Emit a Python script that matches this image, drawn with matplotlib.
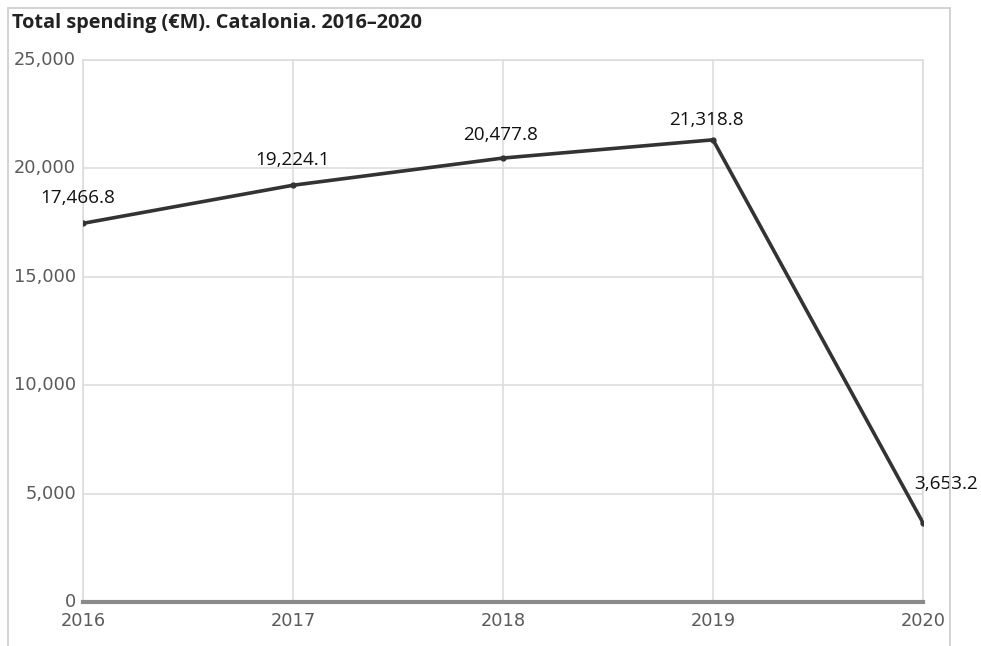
import matplotlib.pyplot as plt
from matplotlib.patches import Rectangle
from matplotlib.ticker import FuncFormatter

# Total spending in Catalonia, millions of euros
years = [2016, 2017, 2018, 2019, 2020]
spending = [17466.8, 19224.1, 20477.8, 21318.8, 3653.2]
y_ticks = [0, 5000, 10000, 15000, 20000, 25000]

# label offsets in points (dx, dy) from each marker to the label centre
label_offsets = [(-3.6, 18), (0, 18), (-2, 16.5), (-5, 14.4), (16.5, 28)]

plt.rcParams['font.family'] = ['Open Sans', 'DejaVu Sans']

fig = plt.figure(figsize=(9.81, 6.46), dpi=100)
ax = fig.add_axes([0.0846, 0.0681, 0.8563, 0.8390])

# outer frame around the chart
fig.patches.append(Rectangle((8 / 981, -0.05), 942 / 981, 1.05 - 8 / 646,
                             transform=fig.transFigure, fill=False,
                             edgecolor='#cfcfcf', linewidth=1.3))

fig.text(12 / 981, 1 - 23 / 646, 'Total spending (€M). Catalonia. 2016–2020',
         fontsize=14.3, fontweight='bold', color='#222222', va='center', ha='left')

ax.plot(years, spending, color='#333333', linewidth=2.6, marker='o',
        markersize=3.5, zorder=3)

for x, v, (dx, dy) in zip(years, spending, label_offsets):
    ax.annotate(f'{v:,.1f}', (x, v), xytext=(dx, dy), textcoords='offset points',
                ha='center', va='center', fontsize=13.6, color='#111111')

ax.set_xlim(years[0], years[-1])
ax.set_ylim(0, 25000)
ax.set_xticks(years)
ax.set_yticks(y_ticks)
ax.yaxis.set_major_formatter(FuncFormatter(lambda v, p: f'{v:,.0f}'))

ax.grid(True, color='#dddddd', linewidth=1.2)
ax.set_axisbelow(True)
for side in ['top', 'right', 'left']:
    ax.spines[side].set_color('#dddddd')
    ax.spines[side].set_linewidth(1.2)
ax.spines['bottom'].set_color('#8a8a8a')
ax.spines['bottom'].set_linewidth(3)

ax.tick_params(axis='both', length=0, labelsize=12.8, labelcolor='#5a5a5a')
ax.tick_params(axis='x', pad=7.5)
ax.tick_params(axis='y', pad=5)
for lbl in ax.get_xticklabels() + ax.get_yticklabels():
    lbl.set_fontfamily('DejaVu Sans')
for lbl in ax.get_yticklabels():
    lbl.set_verticalalignment('center')

fig.savefig('out.png', dpi=100)
